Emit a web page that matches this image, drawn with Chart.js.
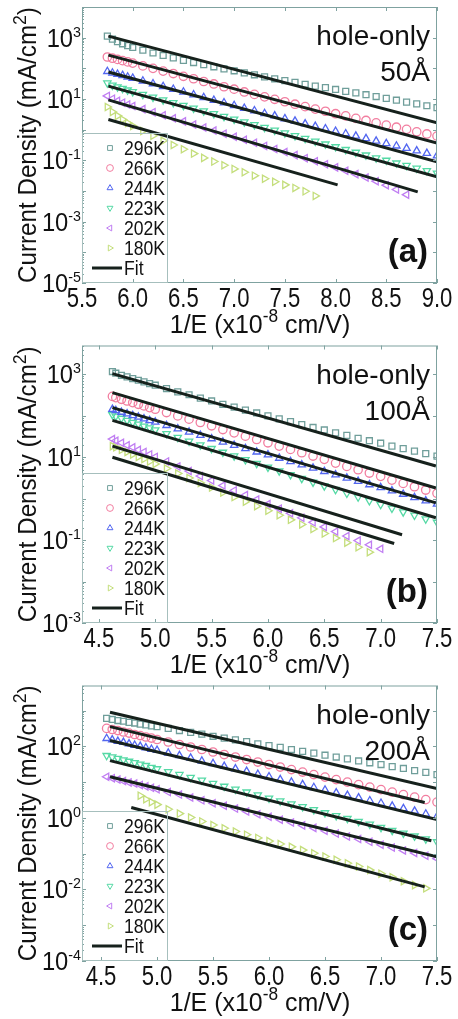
<!DOCTYPE html>
<html>
<head>
<meta charset="utf-8">
<script src="https://cdn.jsdelivr.net/npm/chart.js@4.4.0/dist/chart.umd.min.js"></script>
<style>
  body { margin: 0; background: #fff; width: 458px; height: 1019px; position: relative; overflow: hidden; }
  canvas { position: absolute; left: 0; }
</style>
</head>
<body>
<canvas id="ca" width="458" height="340" style="top:0px"></canvas>
<canvas id="cb" width="458" height="340" style="top:340px"></canvas>
<canvas id="cc" width="458" height="339" style="top:680px"></canvas>
<script>
const TEMPS = ["296K", "266K", "244K", "223K", "202K", "180K"];

// all current densities below are log10(J / mA cm^-2)

// (a) hole-only 50Å
const XA = [5.75, 5.8, 5.85, 5.9, 5.95, 6.0, 6.1, 6.2, 6.3, 6.4, 6.5, 6.6, 6.7, 6.8, 6.9, 7.0, 7.1, 7.2, 7.3, 7.4, 7.5, 7.6, 7.7, 7.8, 7.9, 8.0, 8.1, 8.2, 8.3, 8.4, 8.5, 8.6, 8.7, 8.8, 8.9, 9.0];
const A296 = [3.05, 2.95, 2.87, 2.80, 2.74, 2.68, 2.59, 2.50, 2.42, 2.34, 2.26, 2.19, 2.12, 2.05, 1.98, 1.92, 1.85, 1.79, 1.72, 1.66, 1.60, 1.54, 1.48, 1.42, 1.37, 1.31, 1.25, 1.20, 1.14, 1.08, 1.02, 0.96, 0.90, 0.84, 0.78, 0.72];
const A266 = [2.37, 2.33, 2.29, 2.25, 2.21, 2.17, 2.08, 2.0, 1.91, 1.83, 1.74, 1.66, 1.57, 1.49, 1.40, 1.32, 1.23, 1.15, 1.07, 0.99, 0.91, 0.83, 0.75, 0.67, 0.60, 0.52, 0.45, 0.37, 0.30, 0.22, 0.15, 0.08, 0.01, -0.07, -0.14, -0.21];
const A244 = [1.90, 1.85, 1.81, 1.77, 1.72, 1.68, 1.59, 1.50, 1.41, 1.32, 1.23, 1.14, 1.05, 0.96, 0.88, 0.79, 0.70, 0.62, 0.53, 0.45, 0.36, 0.28, 0.19, 0.11, 0.03, -0.05, -0.13, -0.21, -0.29, -0.37, -0.45, -0.53, -0.61, -0.69, -0.77, -0.85];
const A223 = [1.52, 1.45, 1.39, 1.34, 1.29, 1.24, 1.15, 1.06, 0.97, 0.88, 0.79, 0.70, 0.61, 0.52, 0.43, 0.34, 0.25, 0.16, 0.07, -0.02, -0.11, -0.20, -0.29, -0.38, -0.47, -0.56, -0.65, -0.74, -0.83, -0.92, -1.0, -1.09, -1.17, -1.26, -1.34, -1.42];
const A202 = [1.10, 1.01, 0.94, 0.88, 0.82, 0.77, 0.67, 0.57, 0.47, 0.37, 0.27, 0.17, 0.07, -0.03, -0.13, -0.23, -0.33, -0.43, -0.53, -0.63, -0.73, -0.83, -0.93, -1.03, -1.13, -1.23, -1.34, -1.45, -1.56, -1.68, -1.81, -1.95, -2.12];
const A180 = [0.74, 0.58, 0.45, 0.33, 0.22, 0.12, -0.04, -0.20, -0.36, -0.50, -0.64, -0.78, -0.92, -1.04, -1.16, -1.28, -1.39, -1.50, -1.60, -1.70, -1.80, -1.90, -2.01, -2.16];
const A_FIT_X0 = [5.76, 5.76, 5.76, 5.76, 5.76, 5.76];
const A_FIT_X1 = [9.0, 9.0, 9.0, 9.0, 8.81, 8.02];
const A_FIT_Y0 = [3.05, 2.43, 1.88, 1.42, 0.97, 0.33];
const A_FIT_Y1 = [0.22, -0.44, -1.05, -1.54, -2.03, -1.80];
const A_XTICKS = [5.5, 6.0, 6.5, 7.0, 7.5, 8.0, 8.5, 9.0];
const A_YLABELS = [-5, -3, -1, 1, 3];

// (b) hole-only 100Å
const XB = [4.62, 4.65, 4.7, 4.75, 4.8, 4.85, 4.9, 4.95, 5.0, 5.1, 5.2, 5.3, 5.4, 5.5, 5.6, 5.7, 5.8, 5.9, 6.0, 6.1, 6.2, 6.3, 6.4, 6.5, 6.6, 6.7, 6.8, 6.9, 7.0, 7.1, 7.2, 7.3, 7.4, 7.5];
const B296 = [3.07, 3.03, 2.98, 2.94, 2.90, 2.86, 2.82, 2.78, 2.74, 2.66, 2.58, 2.51, 2.43, 2.36, 2.28, 2.21, 2.14, 2.07, 2.0, 1.93, 1.86, 1.79, 1.72, 1.66, 1.59, 1.53, 1.46, 1.40, 1.34, 1.27, 1.21, 1.15, 1.09, 1.03];
const B266 = [2.47, 2.44, 2.40, 2.36, 2.32, 2.28, 2.24, 2.20, 2.16, 2.08, 2.0, 1.92, 1.84, 1.76, 1.67, 1.59, 1.51, 1.43, 1.35, 1.27, 1.19, 1.11, 1.03, 0.95, 0.86, 0.78, 0.70, 0.62, 0.54, 0.45, 0.37, 0.29, 0.21, 0.13];
const B244 = [2.16, 2.13, 2.09, 2.05, 2.01, 1.97, 1.93, 1.89, 1.85, 1.77, 1.69, 1.61, 1.53, 1.45, 1.37, 1.29, 1.21, 1.13, 1.06, 0.98, 0.90, 0.82, 0.74, 0.66, 0.58, 0.50, 0.42, 0.34, 0.27, 0.19, 0.11, 0.03, -0.05, -0.13];
const B223 = [2.03, 1.99, 1.94, 1.89, 1.84, 1.80, 1.75, 1.71, 1.66, 1.57, 1.48, 1.39, 1.30, 1.21, 1.12, 1.03, 0.94, 0.85, 0.76, 0.67, 0.58, 0.49, 0.40, 0.31, 0.22, 0.13, 0.04, -0.05, -0.14, -0.23, -0.32, -0.40, -0.49, -0.57];
const B202 = [1.44, 1.40, 1.35, 1.29, 1.24, 1.18, 1.13, 1.07, 1.01, 0.90, 0.78, 0.67, 0.55, 0.44, 0.32, 0.20, 0.09, -0.02, -0.13, -0.24, -0.35, -0.46, -0.57, -0.68, -0.79, -0.90, -1.01, -1.11, -1.21];
const B180 = [1.27, 1.24, 1.18, 1.13, 1.07, 1.01, 0.96, 0.90, 0.84, 0.73, 0.61, 0.50, 0.38, 0.27, 0.15, 0.04, -0.07, -0.18, -0.29, -0.40, -0.51, -0.62, -0.73, -0.84, -0.95, -1.06, -1.17, -1.29];
const B_FIT_X0 = [4.62, 4.62, 4.62, 4.62, 4.62, 4.62];
const B_FIT_X1 = [7.49, 7.49, 7.49, 7.49, 7.19, 7.12];
const B_FIT_Y0 = [3.02, 2.56, 2.20, 1.89, 1.27, 1.00];
const B_FIT_Y1 = [0.79, 0.26, -0.10, -0.46, -0.87, -1.08];
const B_XTICKS = [4.5, 5.0, 5.5, 6.0, 6.5, 7.0, 7.5];
const B_YLABELS = [-3, -1, 1, 3];

// (c) hole-only 200Å
const XC = [4.55, 4.6, 4.65, 4.7, 4.75, 4.8, 4.85, 4.9, 4.95, 5.0, 5.1, 5.2, 5.3, 5.4, 5.5, 5.6, 5.7, 5.8, 5.9, 6.0, 6.1, 6.2, 6.3, 6.4, 6.5, 6.6, 6.7, 6.8, 6.9, 7.0, 7.1, 7.2, 7.3, 7.4, 7.5];
const C296 = [2.78, 2.75, 2.72, 2.70, 2.67, 2.65, 2.62, 2.60, 2.57, 2.55, 2.50, 2.44, 2.39, 2.34, 2.28, 2.23, 2.18, 2.13, 2.07, 2.02, 1.97, 1.91, 1.86, 1.81, 1.75, 1.70, 1.65, 1.59, 1.54, 1.49, 1.43, 1.38, 1.32, 1.27, 1.21];
const C266 = [2.50, 2.47, 2.44, 2.40, 2.37, 2.33, 2.30, 2.26, 2.23, 2.19, 2.12, 2.05, 1.98, 1.91, 1.84, 1.77, 1.70, 1.63, 1.56, 1.49, 1.42, 1.35, 1.28, 1.21, 1.14, 1.07, 1.0, 0.93, 0.86, 0.79, 0.72, 0.65, 0.58, 0.51, 0.44];
const C244 = [2.22, 2.18, 2.14, 2.11, 2.07, 2.03, 2.0, 1.96, 1.92, 1.89, 1.81, 1.74, 1.67, 1.59, 1.52, 1.44, 1.37, 1.30, 1.22, 1.15, 1.07, 1.0, 0.93, 0.85, 0.78, 0.70, 0.63, 0.56, 0.48, 0.41, 0.33, 0.26, 0.19, 0.11, 0.04];
const C223 = [1.74, 1.70, 1.66, 1.62, 1.58, 1.54, 1.50, 1.46, 1.41, 1.37, 1.29, 1.21, 1.13, 1.05, 0.96, 0.88, 0.80, 0.72, 0.64, 0.55, 0.47, 0.39, 0.31, 0.23, 0.14, 0.06, -0.02, -0.10, -0.18, -0.27, -0.35, -0.43, -0.51, -0.59, -0.67];
const C202 = [1.15, 1.11, 1.07, 1.03, 0.99, 0.96, 0.92, 0.88, 0.84, 0.80, 0.72, 0.65, 0.57, 0.49, 0.41, 0.34, 0.26, 0.18, 0.10, 0.03, -0.05, -0.13, -0.21, -0.28, -0.36, -0.44, -0.52, -0.59, -0.67, -0.75, -0.83, -0.91, -0.98, -1.06, -1.14];
const C180 = [null, null, null, null, null, null, 0.62, 0.52, 0.44, 0.37, 0.24, 0.12, 0.01, -0.10, -0.20, -0.29, -0.38, -0.47, -0.56, -0.65, -0.73, -0.81, -0.90, -0.99, -1.08, -1.17, -1.27, -1.36, -1.46, -1.56, -1.66, -1.77, -1.88, -1.97];
const C_FIT_X0 = [4.58, 4.58, 4.58, 4.58, 4.58, 4.77];
const C_FIT_X1 = [7.50, 7.39, 7.50, 7.45, 7.50, 7.39];
const C_FIT_Y0 = [2.95, 2.55, 2.16, 1.60, 1.15, 0.29];
const C_FIT_Y1 = [0.82, 0.43, -0.05, -0.64, -1.09, -1.93];
const C_XTICKS = [4.5, 5.0, 5.5, 6.0, 6.5, 7.0, 7.5];
const C_YLABELS = [-4, -2, 0, 2];

// styling
const FONT = "'Liberation Sans', Arial, Helvetica, sans-serif";
const INK = "#111";
const FRAME = "#7fa2a0";
const FIT_COLOR = "#16211c";
const COLORS = ["#6f9e9a", "#f27ea0", "#5266f0", "#55d9a5", "#c07ef2", "#c4de7c"];
const SHAPES = [
  { pointStyle: "rect", rotation: 0 },
  { pointStyle: "circle", rotation: 0 },
  { pointStyle: "triangle", rotation: 0 },
  { pointStyle: "triangle", rotation: 180 },
  { pointStyle: "triangle", rotation: -90 },
  { pointStyle: "triangle", rotation: 90 }
];

function rich(ctx, parts, x, y, align, sx) {
  const widths = parts.map(p => {
    ctx.font = `${p.bold ? "bold " : ""}${p.size}px ${FONT}`;
    return ctx.measureText(p.t).width * sx;
  });
  const total = widths.reduce((s, w) => s + w, 0);
  let cx = align === "right" ? x - total : align === "center" ? x - total / 2 : x;
  parts.forEach((p, i) => {
    ctx.save();
    ctx.font = `${p.bold ? "bold " : ""}${p.size}px ${FONT}`;
    ctx.fillStyle = INK;
    ctx.textBaseline = "alphabetic";
    ctx.translate(cx, y + (p.dy || 0));
    ctx.scale(sx, 1);
    ctx.fillText(p.t, 0, 0);
    ctx.restore();
    cx += widths[i];
  });
}

function line(ctx, x0, y0, x1, y1) {
  ctx.beginPath();
  ctx.moveTo(x0, y0);
  ctx.lineTo(x1, y1);
  ctx.stroke();
}

const figPlugin = {
  id: "fig",
  afterDatasetsDraw(chart, args, o) {
    const { ctx, chartArea: a, scales: { x, y } } = chart;
    ctx.save();

    // frame + ticks
    ctx.strokeStyle = FRAME;
    ctx.lineWidth = 1;
    ctx.strokeRect(a.left + 0.5, a.top + 0.5, a.right - a.left - 1, a.bottom - a.top - 1);
    o.xTicks.forEach(v => {
      const px = Math.round(x.getPixelForValue(v)) + 0.5;
      line(ctx, px, a.bottom, px, a.bottom - 4);
      line(ctx, px, a.top, px, a.top + 4);
    });
    for (let e = o.decades[0]; e <= o.decades[1]; e++) {
      for (let m = 1; m <= 9; m++) {
        const v = m * 10 ** e;
        if (v < y.min || v > y.max) continue;
        const py = Math.round(y.getPixelForValue(v)) + 0.5;
        const len = m === 1 ? 4 : 2;
        line(ctx, a.left, py, a.left + len, py);
        if (m === 1) line(ctx, a.right, py, a.right - len, py);
      }
    }

    // tick labels
    o.xTicks.forEach(v => {
      rich(ctx, [{ t: v.toFixed(1), size: 28 }], x.getPixelForValue(v), a.bottom + 24, "center", 0.79);
    });
    o.yLabels.forEach(e => {
      const py = y.getPixelForValue(10 ** e);
      rich(ctx, [{ t: "10", size: 25 }, { t: String(e), size: 15, dy: -10 }], 81, py + 9, "right", 0.95);
    });

    // axis titles
    rich(ctx, [{ t: "1/E (x10", size: 26 }, { t: "-8", size: 18, dy: -11 }, { t: " cm/V)", size: 26 }],
      260, a.bottom + 50, "center", 0.96);
    ctx.save();
    ctx.translate(26, (a.top + a.bottom) / 2);
    ctx.rotate(-Math.PI / 2);
    rich(ctx, [{ t: "Current Density (mA/cm", size: 26 }, { t: "2", size: 19, dy: -10 }, { t: ")", size: 26 }],
      0, 10, "center", 0.93);
    ctx.restore();

    // annotations
    rich(ctx, [{ t: "hole-only", size: 28 }], 430, a.top + 38, "right", 1);
    rich(ctx, [{ t: o.sample, size: 28 }], 430, a.top + 74, "right", 1);
    rich(ctx, [{ t: o.tag, size: 33, bold: true }], 428, a.bottom - 21, "right", 1);

    // legend
    const lx = a.left, lw = 85, lh = 150, ly = a.bottom - lh;
    ctx.strokeStyle = "#a6bfbd";
    ctx.lineWidth = 1;
    ctx.strokeRect(lx + 0.5, ly + 0.5, lw, lh - 1);
    TEMPS.forEach((t, i) => {
      const yy = ly + 15 + i * 20;
      ctx.strokeStyle = COLORS[i];
      ctx.fillStyle = "rgba(0,0,0,0)";
      ctx.lineWidth = 1;
      Chart.helpers.drawPoint(ctx, { pointStyle: SHAPES[i].pointStyle, rotation: SHAPES[i].rotation, radius: 3.4, borderWidth: 1 }, lx + 28, yy);
      rich(ctx, [{ t: t, size: 20 }], lx + 42, yy + 7, "left", 0.88);
    });
    const fy = ly + 15 + 6 * 20;
    ctx.strokeStyle = FIT_COLOR;
    ctx.lineWidth = 3;
    line(ctx, lx + 10, fy, lx + 40, fy);
    rich(ctx, [{ t: "Fit", size: 20 }], lx + 42, fy + 7, "left", 0.88);

    ctx.restore();
  }
};

function makePanel(id, xs, series, fx0, fx1, fy0, fy1, cfg) {
  const datasets = [];
  series.forEach((vals, k) => {
    const pts = [];
    vals.forEach((v, i) => { if (v !== null) pts.push({ x: xs[i], y: 10 ** v }); });
    datasets.push({
      label: TEMPS[k],
      data: pts,
      showLine: false,
      pointStyle: SHAPES[k].pointStyle,
      rotation: SHAPES[k].rotation,
      pointRadius: 4.2,
      pointBorderWidth: 1.3,
      pointBorderColor: COLORS[k],
      pointBackgroundColor: "rgba(0,0,0,0)",
      order: 2
    });
  });
  fx0.forEach((x0, k) => {
    datasets.push({
      label: "Fit",
      data: [{ x: x0, y: 10 ** fy0[k] }, { x: fx1[k], y: 10 ** fy1[k] }],
      showLine: true,
      borderColor: FIT_COLOR,
      borderWidth: 3,
      pointRadius: 0,
      order: 1
    });
  });

  new Chart(document.getElementById(id), {
    type: "scatter",
    data: { datasets },
    plugins: [figPlugin],
    options: {
      responsive: false,
      animation: false,
      layout: { padding: { top: cfg.padTop, right: 21, left: 0, bottom: 0 } },
      scales: {
        x: {
          type: "linear", min: cfg.xMin, max: cfg.xMax,
          grid: { display: false }, border: { display: false },
          ticks: { display: false },
          afterFit: s => { s.height = cfg.xHeight; }
        },
        y: {
          type: "logarithmic", min: cfg.yMin, max: cfg.yMax,
          grid: { display: false }, border: { display: false },
          ticks: { display: false },
          afterFit: s => { s.width = 82; }
        }
      },
      plugins: {
        legend: { display: false },
        tooltip: { enabled: false },
        fig: cfg.fig
      }
    }
  });
}

makePanel("ca", XA, [A296, A266, A244, A223, A202, A180], A_FIT_X0, A_FIT_X1, A_FIT_Y0, A_FIT_Y1, {
  padTop: 7, xHeight: 57, xMin: 5.5, xMax: 9.0, yMin: 1e-5, yMax: 1e4,
  fig: { xTicks: A_XTICKS, yLabels: A_YLABELS, decades: [-5, 4], sample: "50Å", tag: "(a)" }
});
makePanel("cb", XB, [B296, B266, B244, B223, B202, B180], B_FIT_X0, B_FIT_X1, B_FIT_Y0, B_FIT_Y1, {
  padTop: 5, xHeight: 57, xMin: 4.35, xMax: 7.5, yMin: 1e-3, yMax: 5000,
  fig: { xTicks: B_XTICKS, yLabels: B_YLABELS, decades: [-3, 3], sample: "100Å", tag: "(b)" }
});
makePanel("cc", XC, [C296, C266, C244, C223, C202, C180], C_FIT_X0, C_FIT_X1, C_FIT_Y0, C_FIT_Y1, {
  padTop: 5, xHeight: 58, xMin: 4.33, xMax: 7.5, yMin: 1e-4, yMax: 5000,
  fig: { xTicks: C_XTICKS, yLabels: C_YLABELS, decades: [-4, 3], sample: "200Å", tag: "(c)" }
});
</script>
</body>
</html>
